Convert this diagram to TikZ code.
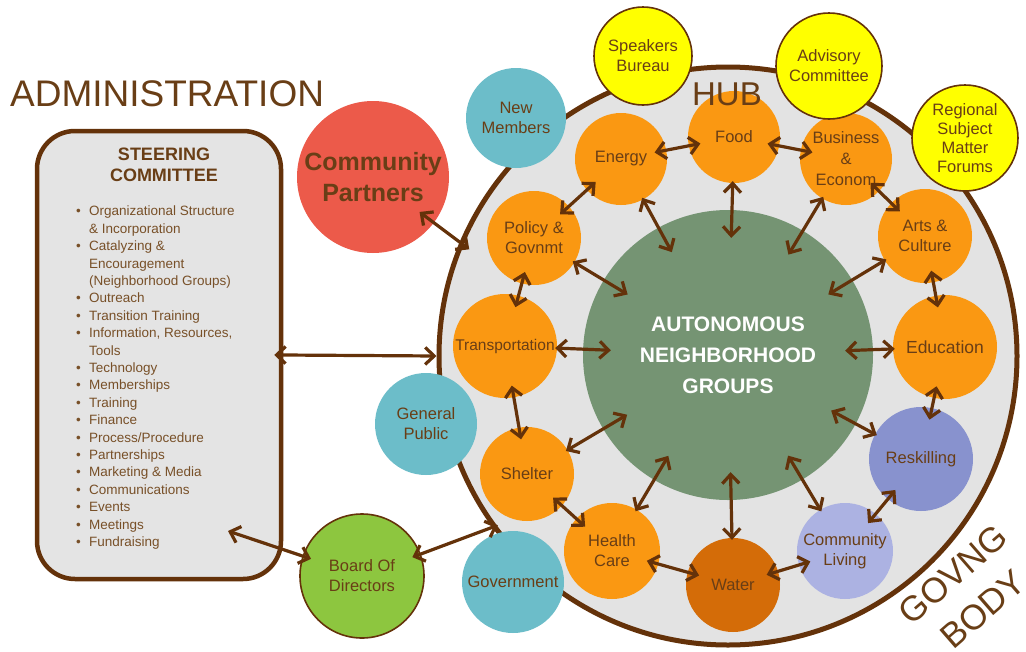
\documentclass[tikz,border=0pt]{standalone}
\usepackage{fontspec}
\setmainfont{Liberation Sans}
\usetikzlibrary{arrows.meta}

\definecolor{hubbrown}{RGB}{100,50,10}
\definecolor{textbrown}{RGB}{105,62,22}
\definecolor{listbrown}{RGB}{120,80,40}
\definecolor{ringgray}{RGB}{227,227,227}
\definecolor{boxgray}{RGB}{228,228,228}
\definecolor{orangefill}{RGB}{250,152,18}
\definecolor{waterfill}{RGB}{212,108,8}
\definecolor{tealfill}{RGB}{108,189,201}
\definecolor{cpred}{RGB}{236,90,74}
\definecolor{boardgreen}{RGB}{141,198,63}
\definecolor{sunyellow}{RGB}{255,255,0}
\definecolor{reskblue}{RGB}{136,146,206}
\definecolor{livinglav}{RGB}{172,178,226}
\definecolor{coregreen}{RGB}{117,148,115}

\tikzset{
  bubble/.style={circle, inner sep=0pt, align=center, text=textbrown,
    font=\fontsize{16.5}{20}\selectfont},
  orangeb/.style={bubble, fill=orangefill},
  tealb/.style={bubble, fill=tealfill},
  yellowb/.style={bubble, fill=sunyellow, draw=hubbrown, line width=1.6pt},
  link/.style={draw=hubbrown, line width=3.2pt,
    >={Straight Barb[length=9pt,width=17pt]}, <->},
  ringlink/.style={link, shorten <=-12pt, shorten >=-12pt},
  spoke/.style={link, shorten <=-2pt, shorten >=-28pt}
}

\newcommand{\itm}{\makebox[13pt][l]{\textbullet}}
\newcommand{\cnt}{\hspace*{13pt}}

\begin{document}
\begin{tikzpicture}[x=1pt,y=-1pt]
  \fill[white] (0,0) rectangle (1026,651);
  \useasboundingbox (0,0) rectangle (1026,651);

  \node[circle, draw=hubbrown, line width=5pt, fill=ringgray, minimum size=578pt] (hub) at (728,356) {};

  \node[text=textbrown, inner sep=0pt, anchor=west, font=\fontsize{37}{37}\selectfont] (admin) at (10,94) {ADMINISTRATION};

  \node[draw=hubbrown, line width=4.5pt, fill=boxgray, rounded corners=38pt,
    minimum width=244pt, minimum height=448pt] (steer) at (159,355) {};
  \node[text=textbrown, align=center, inner sep=0pt, font=\bfseries\fontsize{18}{21}\selectfont] (steertitle) at (164,165) {STEERING\\COMMITTEE};
  \node[text=listbrown, align=left, inner sep=0pt, anchor=north west, font=\fontsize{13.5}{17.4}\selectfont] (steerlist) at (76,206) {%
    \itm Organizational Structure\\
    \cnt \& Incorporation\\
    \itm Catalyzing \&\\
    \cnt Encouragement\\
    \cnt (Neighborhood Groups)\\
    \itm Outreach\\
    \itm Transition Training\\
    \itm Information, Resources,\\
    \cnt Tools\\
    \itm Technology\\
    \itm Memberships\\
    \itm Training\\
    \itm Finance\\
    \itm Process/Procedure\\
    \itm Partnerships\\
    \itm Marketing \& Media\\
    \itm Communications\\
    \itm Events\\
    \itm Meetings\\
    \itm Fundraising};

  \node[circle, fill=coregreen, minimum size=290pt, inner sep=0pt, align=center, text=white,
    font=\bfseries\fontsize{21}{31}\selectfont] (core) at (728,355) {AUTONOMOUS\\NEIGHBORHOOD\\GROUPS};

  \node[orangeb, minimum size=92pt] (energy) at (621,159) {Energy};
  \node[orangeb, minimum size=92pt] (food) at (734,137) {Food};
  \node[orangeb, minimum size=92pt, font=\fontsize{16.5}{21}\selectfont] (business) at (846,159) {Business\\\&\\Econom};
  \node[orangeb, minimum size=94pt] (arts) at (925,236) {Arts \&\\Culture};
  \node[orangeb, minimum size=104pt, font=\fontsize{17.5}{20}\selectfont] (education) at (945,347) {Education};
  \node[bubble, fill=reskblue, minimum size=104pt] (reskilling) at (921,459) {Reskilling};
  \node[bubble, fill=livinglav, minimum size=96pt] (living) at (845,551) {Community\\Living};
  \node[bubble, fill=waterfill, minimum size=94pt] (water) at (733,585) {Water};
  \node[orangeb, minimum size=96pt] (health) at (612,551) {Health\\Care};
  \node[orangeb, minimum size=94pt] (shelter) at (527,474) {Shelter};
  \node[orangeb, minimum size=104pt, font=\fontsize{15.5}{20}\selectfont] (transport) at (505,346) {Transportation};
  \node[orangeb, minimum size=94pt] (policy) at (534,238) {Policy \&\\Govnmt};

  \node[tealb, minimum size=100pt] (newmem) at (516,118) {New\\Members};
  \node[tealb, minimum size=102pt] (public) at (426,424) {General\\Public};
  \node[tealb, minimum size=102pt] (govt) at (513,582) {Government};

  \node[yellowb, minimum size=98pt] (speakers) at (643,56) {Speakers\\Bureau};
  \node[yellowb, minimum size=106pt] (advisory) at (829,66) {Advisory\\Committee};
  \node[yellowb, minimum size=106pt, font=\fontsize{16.5}{19}\selectfont] (regional) at (965,138) {Regional\\Subject\\Matter\\Forums};

  \node[circle, fill=cpred, minimum size=152pt, inner sep=0pt, align=center, text=textbrown,
    font=\bfseries\fontsize{25}{31}\selectfont] (cp) at (373,177) {Community\\Partners};
  \node[bubble, fill=boardgreen, draw=hubbrown, line width=1.6pt, minimum size=124pt] (board) at (362,576) {Board Of\\Directors};

  \node[text=textbrown, inner sep=0pt, font=\fontsize{33}{33}\selectfont] (hublabel) at (727,94) {HUB};
  \node[text=textbrown, align=center, inner sep=0pt, rotate=41, font=\fontsize{35}{46}\selectfont] (govbody) at (968,592) {GOVNG\\BODY};

  \coordinate (stin) at (228,531);

  \draw[ringlink] (energy) -- (food);
  \draw[ringlink] (food) -- (business);
  \draw[ringlink] (business) -- (arts);
  \draw[ringlink] (arts) -- (education);
  \draw[ringlink] (education) -- (reskilling);
  \draw[ringlink] (reskilling) -- (living);
  \draw[ringlink] (living) -- (water);
  \draw[ringlink] (water) -- (health);
  \draw[ringlink] (health) -- (shelter);
  \draw[ringlink] (shelter) -- (transport);
  \draw[ringlink] (transport) -- (policy);
  \draw[ringlink] (policy) -- (energy);

  \draw[spoke] (energy) -- (core);
  \draw[spoke] (food) -- (core);
  \draw[spoke] (business) -- (core);
  \draw[spoke] (arts) -- (core);
  \draw[spoke] (education) -- (core);
  \draw[spoke] (reskilling) -- (core);
  \draw[spoke] (living) -- (core);
  \draw[spoke] (water) -- (core);
  \draw[spoke] (health) -- (core);
  \draw[spoke] (shelter) -- (core);
  \draw[spoke] (transport) -- (core);
  \draw[spoke] (policy) -- (core);

  \draw[link, shorten <=-18pt, shorten >=-12pt] (cp) -- (hub.157);
  \draw[link, shorten <=-9pt] (steer.east) -- (hub.west);
  \draw[link, shorten <=-9pt] (board) -- (stin);
  \draw[link, shorten <=-9pt, shorten >=-6pt] (board) -- (hub.216);
\end{tikzpicture}
\end{document}
